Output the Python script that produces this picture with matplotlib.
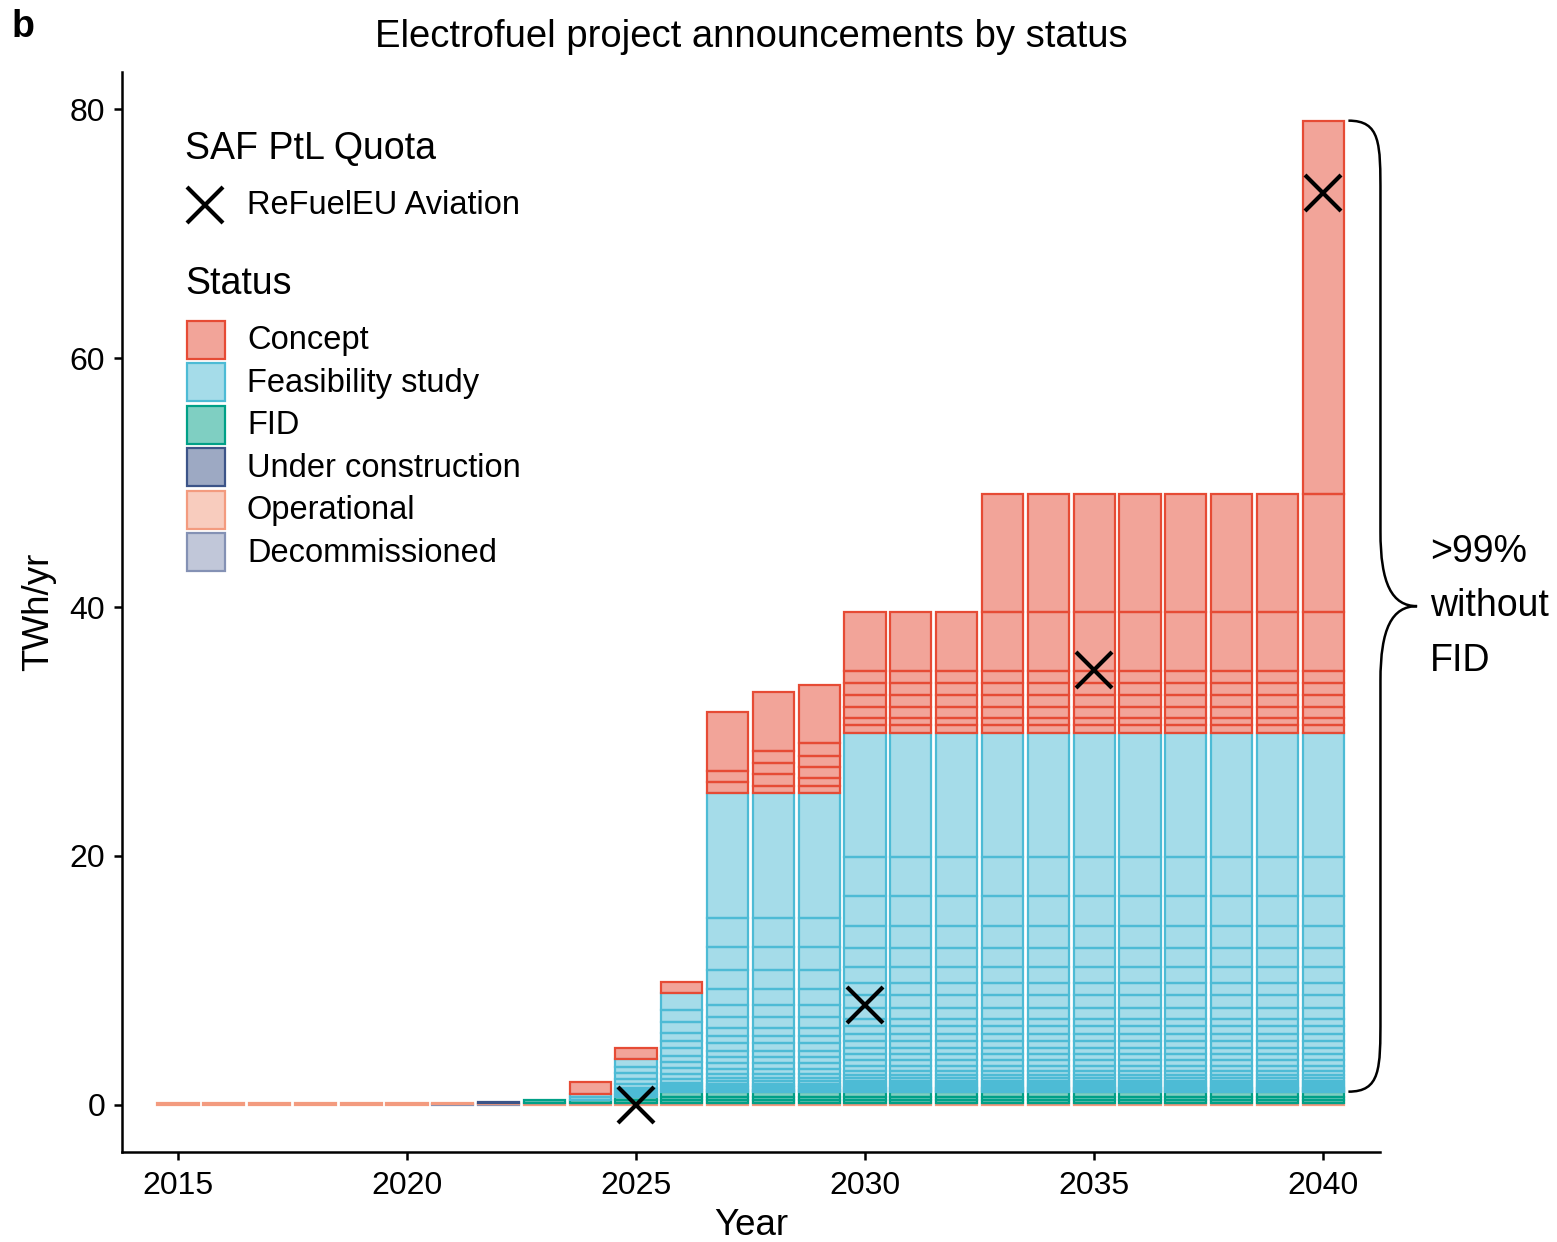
import numpy as np
import matplotlib
matplotlib.use("Agg")
import matplotlib.pyplot as plt
from matplotlib.colors import to_rgba
from matplotlib.patches import Rectangle, PathPatch
from matplotlib.path import Path

plt.rcParams['font.family'] = ['Liberation Sans', 'DejaVu Sans']

# years shown
years = np.arange(2015, 2041)

# status levels (bottom of stack first) and colours
statuses = ['Decommissioned', 'Operational', 'Under construction', 'FID',
            'Feasibility study', 'Concept']
colors = {'Concept': '#E64B35', 'Feasibility study': '#4DBBD5', 'FID': '#00A087',
          'Under construction': '#3C5488', 'Operational': '#F39B7F',
          'Decommissioned': '#8491B4'}

# projects per status: capacity (TWh/yr), first year (and last year if decommissioned)
decom_cap = [0.04]
decom_start = [2021]
decom_end = [2022]

oper_cap = [0.1]
oper_start = [2015]

uc_cap = [0.05]
uc_start = [2022]

fid_cap = [0.25, 0.25, 0.4]
fid_start = [2023, 2025, 2026]

feas_cap = [10.0, 3.1, 2.4, 1.8, 1.5, 1.3, 1.0, 1.0, 0.9, 0.6, 0.6, 0.6, 0.5, 0.5,
            0.5, 0.5, 0.4, 0.3, 0.25, 0.2, 0.2, 0.15, 0.15, 0.1, 0.1, 0.08,
            0.06, 0.05]
feas_start = [2027, 2030, 2027, 2027, 2027, 2026, 2026, 2030, 2026, 2025, 2026, 2026,
              2025, 2025, 2026, 2030, 2025, 2024, 2027, 2024, 2030, 2025, 2025,
              2025, 2025, 2027, 2027, 2030]

concept_cap = [0.9, 0.9, 4.7, 1.0, 0.6, 0.6, 1.0, 9.5, 30.0]
concept_start = [2024, 2027, 2027, 2028, 2028, 2029, 2030, 2033, 2040]

# ReFuelEU Aviation quota
quota_years = [2025, 2030, 2035, 2040]
quota_twh = [0.0, 8.0, 34.9, 73.3]

projects = {
    'Decommissioned': list(zip(decom_cap, decom_start, decom_end)),
    'Operational': [(c, s, 2100) for c, s in zip(oper_cap, oper_start)],
    'Under construction': [(c, s, 2100) for c, s in zip(uc_cap, uc_start)],
    'FID': [(c, s, 2100) for c, s in zip(fid_cap, fid_start)],
    'Feasibility study': [(c, s, 2100) for c, s in zip(feas_cap, feas_start)],
    'Concept': [(c, s, 2100) for c, s in zip(concept_cap, concept_start)],
}

W, H = 1557, 1242
fig = plt.figure(figsize=(W / 100, H / 100), dpi=100)
ax = fig.add_axes([122 / W, 1 - 1152 / H, 1258 / W, 1080 / H])

lw = 1.6
for yr in years:
    bottom = 0.0
    for st in statuses:
        active = sorted(c for c, s, e in projects[st] if s <= yr <= e)
        for c in active:
            ax.bar(yr, c, bottom=bottom, width=0.9,
                   facecolor=to_rgba(colors[st], 0.5), edgecolor=colors[st],
                   linewidth=lw)
            bottom += c

ax.plot(quota_years, quota_twh, linestyle='none', marker='x', color='black',
        markersize=26, markeredgewidth=3, clip_on=False, zorder=5)

ax.set_xlim(2013.78, 2041.24)
ax.set_ylim(-3.8, 83.0)
ax.set_xticks([2015, 2020, 2025, 2030, 2035, 2040])
ax.set_yticks([0, 20, 40, 60, 80])
for sp in ['top', 'right']:
    ax.spines[sp].set_visible(False)
for sp in ['left', 'bottom']:
    ax.spines[sp].set_linewidth(1.8)
ax.tick_params(labelsize=23, width=1.8, length=6, pad=6, colors='black')
ax.tick_params(axis='x', pad=8)
ax.set_xlabel('Year', fontsize=26.5, labelpad=5)
ax.set_ylabel('TWh/yr', fontsize=26.5, labelpad=10)
ax.set_title('Electrofuel project announcements by status', fontsize=27.5, pad=18)

fig.text(12 / W, 1 - 37 / H, 'b', fontsize=27, fontweight='bold', va='baseline')

# brace next to the 2040 bar
tot2040 = sum(c for st in statuses for c, s, e in projects[st] if s <= 2040 <= e)
base = sum(oper_cap) + sum(uc_cap) + sum(fid_cap)
ymid = (tot2040 + base) / 2
x0, x1, x2 = 2040.55, 2041.25, 2042.05
r = 6.0
verts = [(x0, tot2040), (x1, tot2040), (x1, tot2040 - r * 0.3), (x1, tot2040 - r),
         (x1, ymid + r),
         (x1, ymid + r * 0.3), (x1 + 0.25, ymid), (x2, ymid),
         (x1 + 0.25, ymid), (x1, ymid - r * 0.3), (x1, ymid - r),
         (x1, base + r),
         (x1, base + r * 0.3), (x1, base), (x0, base)]
codes = [Path.MOVETO, Path.CURVE4, Path.CURVE4, Path.CURVE4, Path.LINETO,
         Path.CURVE4, Path.CURVE4, Path.CURVE4,
         Path.CURVE4, Path.CURVE4, Path.CURVE4, Path.LINETO,
         Path.CURVE4, Path.CURVE4, Path.CURVE4]
ax.add_patch(PathPatch(Path(verts, codes), facecolor='none', edgecolor='black',
                       linewidth=1.8, clip_on=False))
ax.text(2042.33, ymid, '>99%\nwithout\nFID', fontsize=27, ha='left', va='center',
        linespacing=1.66, clip_on=False)

# legend, drawn on an overlay in pixel units (y down)
lax = fig.add_axes([0, 0, 1, 1], facecolor='none')
lax.set_xlim(0, W)
lax.set_ylim(H, 0)
lax.axis('off')

lax.text(185, 149, 'SAF PtL Quota', fontsize=27, va='center')
lax.plot([205], [205], marker='x', color='black', markersize=26, markeredgewidth=3)
lax.text(247, 206, 'ReFuelEU Aviation', fontsize=23.5, va='center')

lax.text(185, 284, 'Status', fontsize=27, va='center')
legend_order = ['Concept', 'Feasibility study', 'FID', 'Under construction',
                'Operational', 'Decommissioned']
for i, st in enumerate(legend_order):
    y0 = 321 + i * 42.4
    lax.add_patch(Rectangle((187, y0), 38, 38, facecolor=to_rgba(colors[st], 0.5),
                            edgecolor=colors[st], linewidth=lw))
    lax.text(247, y0 + 20, st, fontsize=23.5, va='center')

fig.savefig('out.png', dpi=100)
